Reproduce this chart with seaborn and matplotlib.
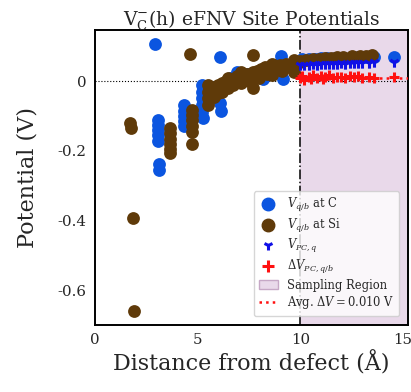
import numpy as np
import pandas as pd
import matplotlib
matplotlib.use("Agg")
import matplotlib.pyplot as plt
import seaborn as sns
from matplotlib.lines import Line2D
from matplotlib.patches import Patch

# ---- data ----
c_x = [2.91, 3.07, 3.07, 3.07, 3.07, 3.07, 3.10, 3.12,
       4.34, 4.34, 4.34, 4.34, 4.34,
       5.22, 5.22, 5.22, 5.22, 5.22, 5.24,
       6.07, 6.10, 6.12, 6.60, 6.94, 7.40, 8.17, 8.50, 9.14, 9.06, 9.60,
       10.1, 10.4, 10.7, 11.0, 11.3, 11.7, 12.0, 12.4, 12.8, 13.2, 13.6, 14.55]
c_y = [0.106, -0.111, -0.125, -0.140, -0.155, -0.172, -0.238, -0.255,
       -0.070, -0.085, -0.100, -0.115, -0.130,
       -0.012, -0.030, -0.050, -0.070, -0.090, -0.106,
       0.070, -0.062, -0.085, 0.010, 0.027, 0.020, 0.005, 0.030, 0.005, 0.073, 0.040,
       0.062, 0.063, 0.064, 0.065, 0.066, 0.066, 0.067, 0.067, 0.068, 0.068, 0.069, 0.070]

si_x = [1.73, 1.75, 1.86, 1.89, 4.64,
        3.64, 3.64, 3.64, 3.64, 3.66, 3.66,
        4.72, 4.72, 4.72, 4.72, 4.72, 4.72,
        5.50, 5.50, 5.50, 5.50, 5.60, 5.80, 5.80, 6.00, 6.00, 6.20, 6.20, 6.40, 6.50,
        6.50, 6.70, 6.80, 6.90, 7.10, 7.10, 7.20, 7.40, 7.50, 7.70, 7.70, 7.90, 8.00,
        8.10, 8.30, 8.40, 8.60, 8.60, 8.80, 9.00, 9.10, 9.30, 9.50, 9.70, 9.70, 9.85, 7.69,
        10.0, 10.3, 10.6, 10.9, 11.2, 11.5, 11.8, 12.1, 12.5, 12.9, 13.2, 13.5]
si_y = [-0.120, -0.135, -0.392, -0.659, 0.077,
        -0.134, -0.150, -0.165, -0.180, -0.195, -0.206,
        -0.083, -0.098, -0.113, -0.128, -0.145, -0.181,
        -0.010, -0.030, -0.050, -0.070, -0.040, -0.020, -0.045, -0.010, -0.035, -0.005, -0.030, 0.000,
        -0.020, 0.010, -0.010, 0.005, 0.015, 0.027, -0.005, 0.010, 0.020, 0.000, 0.025, -0.020, 0.030, 0.010,
        0.035, 0.040, 0.020, 0.050, 0.017, 0.040, 0.045, 0.030, 0.050, 0.040, 0.060, 0.027, 0.050, 0.076,
        0.058, 0.060, 0.062, 0.064, 0.066, 0.067, 0.068, 0.070, 0.071, 0.072, 0.073, 0.074]

pc_x = [10.0, 10.2, 10.4, 10.6, 10.8, 11.0, 11.2, 11.4, 11.6, 11.8, 12.0, 12.2,
        12.4, 12.6, 12.8, 13.0, 13.35, 13.6, 14.55]
pc_y = [0.045, 0.047, 0.046, 0.048, 0.047, 0.049, 0.048, 0.050, 0.049, 0.050, 0.051, 0.050,
        0.052, 0.051, 0.053, 0.052, 0.053, 0.054, 0.056]

dv_x = [10.0, 10.1, 10.2, 10.4, 10.5, 10.6, 10.8, 11.0, 11.1, 11.2, 11.4, 11.6, 11.8,
        12.0, 12.2, 12.4, 12.6, 12.8, 13.0, 13.35, 13.6, 14.55]
dv_y = [0.008, 0.015, 0.004, 0.012, 0.006, 0.018, 0.010, 0.014, 0.005, 0.011, 0.016, 0.009,
        0.012, 0.013, 0.008, 0.014, 0.011, 0.015, 0.010, 0.012, 0.009, 0.013]

avg_dv = 0.010
region_start = 10.0
x_ticks = [0, 5, 10, 15]
y_ticks = [0, -0.2, -0.4, -0.6]
y_ticklabels = ["0", "-0.2", "-0.4", "-0.6"]

# ---- style ----
sns.set_style("white")
plt.rcParams["font.family"] = ["DejaVu Serif"]
plt.rcParams["mathtext.fontset"] = "dejavuserif"

blue = "#0b55e0"
brown = "#5f3a09"
tri_blue = "#1010e6"
red = "#ff1010"
region_face = "#e9d9ea"
region_edge = "#c6a8c6"

fig = plt.figure(figsize=(4.11, 3.92), dpi=100)
ax = fig.add_axes([0.231, 0.171, 0.762, 0.752])

xmax = 15.25
ax.set_xlim(0, xmax)
ax.set_ylim(-0.70, 0.146)

ax.axvspan(region_start, xmax, facecolor=region_face, edgecolor="none", zorder=0)
ax.axvline(region_start, color="black", ls="-.", lw=1.1, zorder=1)
ax.axhline(0, color="black", ls=":", lw=0.8, zorder=1)

df_c = pd.DataFrame({"x": c_x, "y": c_y})
df_si = pd.DataFrame({"x": si_x, "y": si_y})
df_pc = pd.DataFrame({"x": pc_x, "y": pc_y})
df_dv = pd.DataFrame({"x": dv_x, "y": dv_y})

sns.scatterplot(data=df_c, x="x", y="y", ax=ax, color=blue, s=85, linewidth=0, zorder=3)
sns.scatterplot(data=df_si, x="x", y="y", ax=ax, color=brown, s=85, linewidth=0, zorder=4)
sns.scatterplot(data=df_pc, x="x", y="y", ax=ax, color=tri_blue, marker="1", s=55, linewidth=2.2, zorder=5)
sns.scatterplot(data=df_dv, x="x", y="y", ax=ax, color=red, marker="+", s=60, linewidth=2.2, zorder=6)
ax.plot([region_start, xmax], [avg_dv, avg_dv], color=red, ls=":", lw=1.8, zorder=7)

ax.set_xticks(x_ticks)
ax.set_xticklabels([str(t) for t in x_ticks])
ax.set_yticks(y_ticks)
ax.set_yticklabels(y_ticklabels)
ax.tick_params(direction="in", length=8, width=1.4, labelsize=10.8, pad=6)
for sp in ax.spines.values():
    sp.set_linewidth(1.4)
    sp.set_color("black")

ax.set_xlabel("Distance from defect (Å)", fontsize=16, labelpad=3)
ax.set_ylabel("Potential (V)", fontsize=16, labelpad=14)
ax.set_title(r"$\mathrm{V_C^{-}}$(h) eFNV Site Potentials", fontsize=13.5, pad=4)

handles = [
    Line2D([], [], ls="none", marker="o", color=blue, markersize=9),
    Line2D([], [], ls="none", marker="o", color=brown, markersize=9),
    Line2D([], [], ls="none", marker="1", color=tri_blue, markersize=7, mew=2.2),
    Line2D([], [], ls="none", marker="+", color=red, markersize=8, mew=2.2),
    Patch(facecolor=region_face, edgecolor=region_edge),
    Line2D([], [], ls=":", color=red, lw=1.8),
]
labels = [r"$V_{q/b}$ at C", r"$V_{q/b}$ at Si", r"$V_{PC,q}$",
          r"$\Delta V_{PC,q/b}$", "Sampling Region", r"Avg. $\Delta V = 0.010$ V"]
leg = ax.legend(handles, labels, loc="lower right", fontsize=8.3, framealpha=0.8,
                handlelength=1.6, borderpad=0.45, labelspacing=0.22,
                bbox_to_anchor=(0.99, 0.01))
leg.get_frame().set_edgecolor("#cccccc")

fig.savefig("out.png", dpi=100)
